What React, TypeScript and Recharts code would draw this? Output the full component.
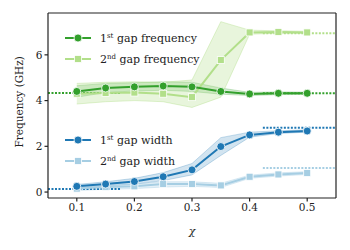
import { ComposedChart, Line, Area, XAxis, YAxis, ReferenceLine } from 'recharts';

const chi = [0.1, 0.15, 0.2, 0.25, 0.3, 0.35, 0.4, 0.45, 0.5];

// gap frequencies (GHz)
const freq1 = [4.4, 4.55, 4.6, 4.64, 4.6, 4.4, 4.29, 4.32, 4.32];
const freq1Lo = [4.15, 4.35, 4.42, 4.45, 4.4, 4.28, 4.22, 4.26, 4.27];
const freq1Hi = [4.65, 4.75, 4.78, 4.82, 4.8, 4.55, 4.36, 4.38, 4.37];
const freq2 = [4.3, 4.33, 4.35, 4.3, 4.15, 5.77, 6.98, 7.0, 6.98];
const freq2Lo = [3.85, 3.95, 4.0, 3.95, 3.7, 4.15, 6.9, 6.95, 6.93];
const freq2Hi = [4.75, 4.8, 4.82, 4.8, 4.9, 7.45, 7.08, 7.05, 7.03];

// gap widths (GHz)
const width1 = [0.25, 0.35, 0.46, 0.67, 0.97, 1.99, 2.5, 2.62, 2.67];
const width1Lo = [0.18, 0.26, 0.34, 0.5, 0.75, 1.6, 2.4, 2.56, 2.62];
const width1Hi = [0.33, 0.45, 0.6, 0.85, 1.25, 2.38, 2.62, 2.68, 2.72];
const width2 = [0.15, 0.22, 0.25, 0.35, 0.35, 0.29, 0.67, 0.77, 0.83];
const width2Lo = [0.07, 0.12, 0.15, 0.22, 0.25, 0.2, 0.6, 0.7, 0.77];
const width2Hi = [0.22, 0.3, 0.35, 0.45, 0.45, 0.38, 0.74, 0.84, 0.89];

// dotted reference levels
const refLevels = [
  { x0: 0.05, x1: 0.175, y: 4.33, color: '#33a02c' },
  { x0: 0.05, x1: 0.175, y: 0.13, color: '#1f78b4' },
  { x0: 0.423, x1: 0.55, y: 4.32, color: '#33a02c' },
  { x0: 0.423, x1: 0.55, y: 6.94, color: '#b2df8a' },
  { x0: 0.423, x1: 0.55, y: 2.81, color: '#1f78b4' },
  { x0: 0.423, x1: 0.55, y: 1.05, color: '#a6cee3' },
];

const xTicks = [0.1, 0.2, 0.3, 0.4, 0.5];
const yTicks = [0, 2, 4, 6];

const C1F = '#33a02c';
const C2F = '#b2df8a';
const C1W = '#1f78b4';
const C2W = '#a6cee3';
const FONT = '"DejaVu Serif", serif';

const data = chi.map((x, i) => ({
  x,
  f1: freq1[i],
  f1Band: [freq1Lo[i], freq1Hi[i]],
  f2: freq2[i],
  f2Band: [freq2Lo[i], freq2Hi[i]],
  w1: width1[i],
  w1Band: [width1Lo[i], width1Hi[i]],
  w2: width2[i],
  w2Band: [width2Lo[i], width2Hi[i]],
}));

const squareDot = (color: string) => (props: any) => {
  const { cx, cy, index } = props;
  if (cx == null || cy == null) return <g key={index} />;
  return (
    <rect key={index} x={cx - 3.5} y={cy - 3.5} width={7} height={7} fill={color} stroke="#fff" strokeWidth={0.8} />
  );
};

function LegendRow({ top, color, square, label, sup }: { top: number; color: string; square?: boolean; label: string; sup: string }) {
  return (
    <div style={{ position: 'absolute', left: 64, top: top - 8, height: 16, display: 'flex', alignItems: 'center' }}>
      <svg width={28} height={16}>
        <line x1={1} y1={8} x2={27} y2={8} stroke={color} strokeWidth={2} />
        {square ? (
          <rect x={10.5} y={4.5} width={7} height={7} fill={color} stroke="#fff" strokeWidth={0.8} />
        ) : (
          <circle cx={14} cy={8} r={4} fill={color} stroke="#fff" strokeWidth={0.8} />
        )}
      </svg>
      <span style={{ marginLeft: 8, fontFamily: FONT, fontSize: 11, color: '#222', whiteSpace: 'nowrap' }}>
        {label[0]}
        <sup style={{ fontSize: 7, verticalAlign: 4 }}>{sup}</sup> {label.slice(2)}
      </span>
    </div>
  );
}

export default function App() {
  return (
    <div style={{ position: 'absolute', left: 0, top: 0, width: 350, height: 250, background: '#fff' }}>
      <ComposedChart width={350} height={250} data={data} margin={{ top: 13, right: 14, bottom: 8, left: 0 }}>
        <XAxis
          dataKey="x"
          type="number"
          domain={[0.05, 0.55]}
          ticks={xTicks}
          tickFormatter={(v: number) => v.toFixed(1)}
          height={44}
          stroke="#222"
          strokeWidth={1.2}
          tickSize={3.5}
          tick={{ fill: '#222', fontSize: 10.5, fontFamily: FONT }}
          label={{ value: 'χ', position: 'insideBottom', offset: 7, fill: '#222', fontSize: 11, fontFamily: FONT, fontStyle: 'italic' }}
        />
        <YAxis
          type="number"
          domain={[-0.26, 7.83]}
          ticks={yTicks}
          width={48}
          stroke="#222"
          strokeWidth={1.2}
          tickSize={3.5}
          tick={{ fill: '#222', fontSize: 10.5, fontFamily: FONT }}
          label={{ value: 'Frequency (GHz)', angle: -90, position: 'insideLeft', offset: 19, dy: 42, fill: '#222', fontSize: 10.5, fontFamily: FONT }}
        />
        <Area dataKey="f1Band" type="linear" fill={C1F} fillOpacity={0.2} stroke={C1F} strokeOpacity={0.25} isAnimationActive={false} />
        <Area dataKey="f2Band" type="linear" fill={C2F} fillOpacity={0.3} stroke={C2F} strokeOpacity={0.4} isAnimationActive={false} />
        <Area dataKey="w1Band" type="linear" fill={C1W} fillOpacity={0.2} stroke={C1W} strokeOpacity={0.25} isAnimationActive={false} />
        <Area dataKey="w2Band" type="linear" fill={C2W} fillOpacity={0.3} stroke={C2W} strokeOpacity={0.4} isAnimationActive={false} />
        {refLevels.map((r, i) => (
          <ReferenceLine
            key={i}
            segment={[{ x: r.x0, y: r.y }, { x: r.x1, y: r.y }]}
            stroke={r.color}
            strokeWidth={2}
            strokeDasharray="2 1.5"
          />
        ))}
        <Line dataKey="f2" type="linear" stroke={C2F} strokeWidth={2} dot={squareDot(C2F)} isAnimationActive={false} />
        <Line dataKey="f1" type="linear" stroke={C1F} strokeWidth={2} dot={{ r: 4, fill: C1F, stroke: '#fff', strokeWidth: 0.8 }} isAnimationActive={false} />
        <Line dataKey="w2" type="linear" stroke={C2W} strokeWidth={2} dot={squareDot(C2W)} isAnimationActive={false} />
        <Line dataKey="w1" type="linear" stroke={C1W} strokeWidth={2} dot={{ r: 4, fill: C1W, stroke: '#fff', strokeWidth: 0.8 }} isAnimationActive={false} />
        <line x1={336} y1={13} x2={336} y2={198} stroke="#222" strokeWidth={1.2} />
        <line x1={48} y1={13} x2={336} y2={13} stroke="#222" strokeWidth={1.2} />
      </ComposedChart>
      <LegendRow top={38} color={C1F} label="1 gap frequency" sup="st" />
      <LegendRow top={59} color={C2F} square label="2 gap frequency" sup="nd" />
      <LegendRow top={140} color={C1W} label="1 gap width" sup="st" />
      <LegendRow top={161} color={C2W} square label="2 gap width" sup="nd" />
    </div>
  );
}
